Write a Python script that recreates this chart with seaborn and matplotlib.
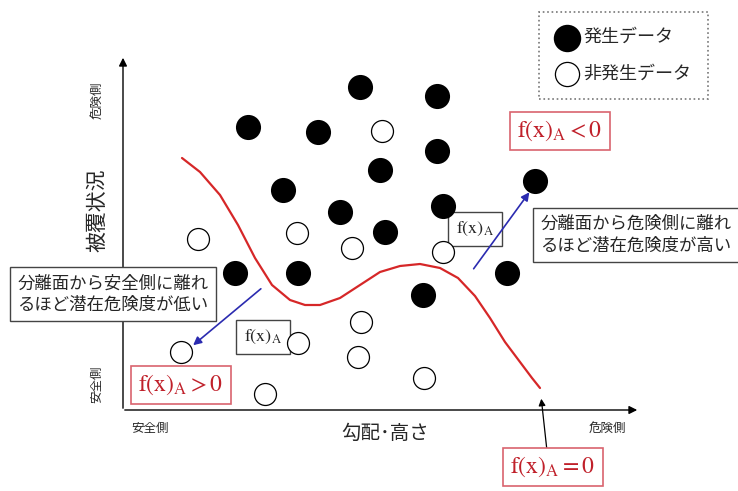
import matplotlib
matplotlib.use("Agg")
import matplotlib.pyplot as plt
import seaborn as sns
import pandas as pd

sns.set_style("white")
plt.rcParams['font.family'] = ['Noto Sans CJK JP', 'DejaVu Sans']
plt.rcParams['mathtext.fontset'] = 'stix'

# diagram coordinates (pixel-like units, y grows downward)
hit_x = [248, 318, 360, 437, 437, 380, 283, 340, 443, 385, 235, 298, 423, 507, 535]
hit_y = [127, 132, 87, 96, 151, 170, 190, 212, 206, 232, 273, 273, 295, 273, 181]
miss_x = [382, 198, 297, 352, 443, 181, 298, 361, 358, 424, 265]
miss_y = [131, 239, 233, 248, 252, 352, 343, 322, 357, 378, 394]

# separating surface f(x)_A = 0
curve_x = [182, 200, 220, 238, 255, 272, 290, 305, 320, 340, 360, 380, 400, 420, 440, 458, 475, 490, 505, 520, 532, 540]
curve_y = [158, 172, 195, 225, 258, 285, 300, 305, 305, 298, 285, 272, 266, 264, 268, 278, 296, 318, 342, 362, 378, 388]

hit = pd.DataFrame({'x': hit_x, 'y': hit_y})
miss = pd.DataFrame({'x': miss_x, 'y': miss_y})
curve = pd.DataFrame({'x': curve_x, 'y': curve_y})

fig = plt.figure(figsize=(7.38, 4.91), dpi=100)
ax = fig.add_axes([0, 0, 1, 1])
ax.set_xlim(0, 738)
ax.set_ylim(491, 0)
ax.axis('off')

# axes arrows
ax.annotate('', xy=(123, 55), xytext=(123, 411),
            arrowprops=dict(arrowstyle='-|>', color='black', lw=1.0, mutation_scale=12))
ax.annotate('', xy=(640, 410), xytext=(122, 410),
            arrowprops=dict(arrowstyle='-|>', color='black', lw=1.0, mutation_scale=12))

sns.lineplot(data=curve, x='x', y='y', sort=False, color='#d62728', lw=1.6, ax=ax)
sns.scatterplot(data=hit, x='x', y='y', s=280, color='black', edgecolor='black', ax=ax,
                label='発生データ', zorder=3)
sns.scatterplot(data=miss, x='x', y='y', s=250, facecolor='white', edgecolor='black',
                linewidth=0.9, ax=ax, label='非発生データ', zorder=3)

leg = ax.legend(loc='upper right', bbox_to_anchor=(708 / 738, 1 - 12 / 491), fontsize=13,
                frameon=True, fancybox=False, edgecolor='#555555', markerscale=1.1,
                handletextpad=0.3, borderpad=0.9, labelspacing=1.0, handlelength=1.3,
                borderaxespad=0)
leg.get_frame().set_linestyle(':')
leg.get_frame().set_linewidth(1.2)

# axis labels
ax.text(97, 100, '危険側', rotation=90, ha='center', va='center', fontsize=9)
ax.text(97, 210, '被覆状況', rotation=90, ha='center', va='center', fontsize=15)
ax.text(97, 384, '安全側', rotation=90, ha='center', va='center', fontsize=9)
ax.text(150, 428, '安全側', ha='center', va='center', fontsize=9)
ax.text(385, 433, '勾配･高さ', ha='center', va='center', fontsize=14)
ax.text(607, 428, '危険側', ha='center', va='center', fontsize=9)

# explanation boxes
box_kw = dict(boxstyle='square,pad=0.4', fc='white', ec='#444444', lw=1.0)
ax.text(113, 294, '分離面から安全側に離れ\nるほど潜在危険度が低い', ha='center', va='center',
        fontsize=12.5, linespacing=1.25, bbox=box_kw, zorder=4)
ax.text(636, 235, '分離面から危険側に離れ\nるほど潜在危険度が高い', ha='center', va='center',
        fontsize=12.5, linespacing=1.25, bbox=box_kw, zorder=4)

fx_kw = dict(boxstyle='square,pad=0.45', fc='white', ec='#444444', lw=1.0)
ax.text(475, 229, r'$\mathrm{f(x)_A}$', ha='center', va='center', fontsize=13,
        bbox=fx_kw, zorder=2)
ax.text(263, 337, r'$\mathrm{f(x)_A}$', ha='center', va='center', fontsize=13,
        bbox=fx_kw, zorder=2)

red_kw = dict(boxstyle='square,pad=0.3', fc='white', ec='#d9646e', lw=1.2)
ax.text(560, 131, r'$\mathrm{f(x)_A} < 0$', ha='center', va='center', fontsize=17,
        color='#c0202a', bbox=red_kw, zorder=4)
ax.text(181, 385, r'$\mathrm{f(x)_A} > 0$', ha='center', va='center', fontsize=17,
        color='#c0202a', bbox=red_kw, zorder=4)
ax.text(553, 467, r'$\mathrm{f(x)_A} = 0$', ha='center', va='center', fontsize=17,
        color='#c0202a', bbox=red_kw, zorder=4)

# arrows
ax.annotate('', xy=(191, 347), xytext=(263, 287),
            arrowprops=dict(arrowstyle='-|>', color='#2b2bb0', lw=1.2, mutation_scale=12))
ax.annotate('', xy=(531, 190), xytext=(472, 271),
            arrowprops=dict(arrowstyle='-|>', color='#2b2bb0', lw=1.2, mutation_scale=12))
ax.annotate('', xy=(541, 396), xytext=(547, 451),
            arrowprops=dict(arrowstyle='-|>', color='black', lw=0.9, mutation_scale=10))

fig.savefig('out.png', dpi=100)
